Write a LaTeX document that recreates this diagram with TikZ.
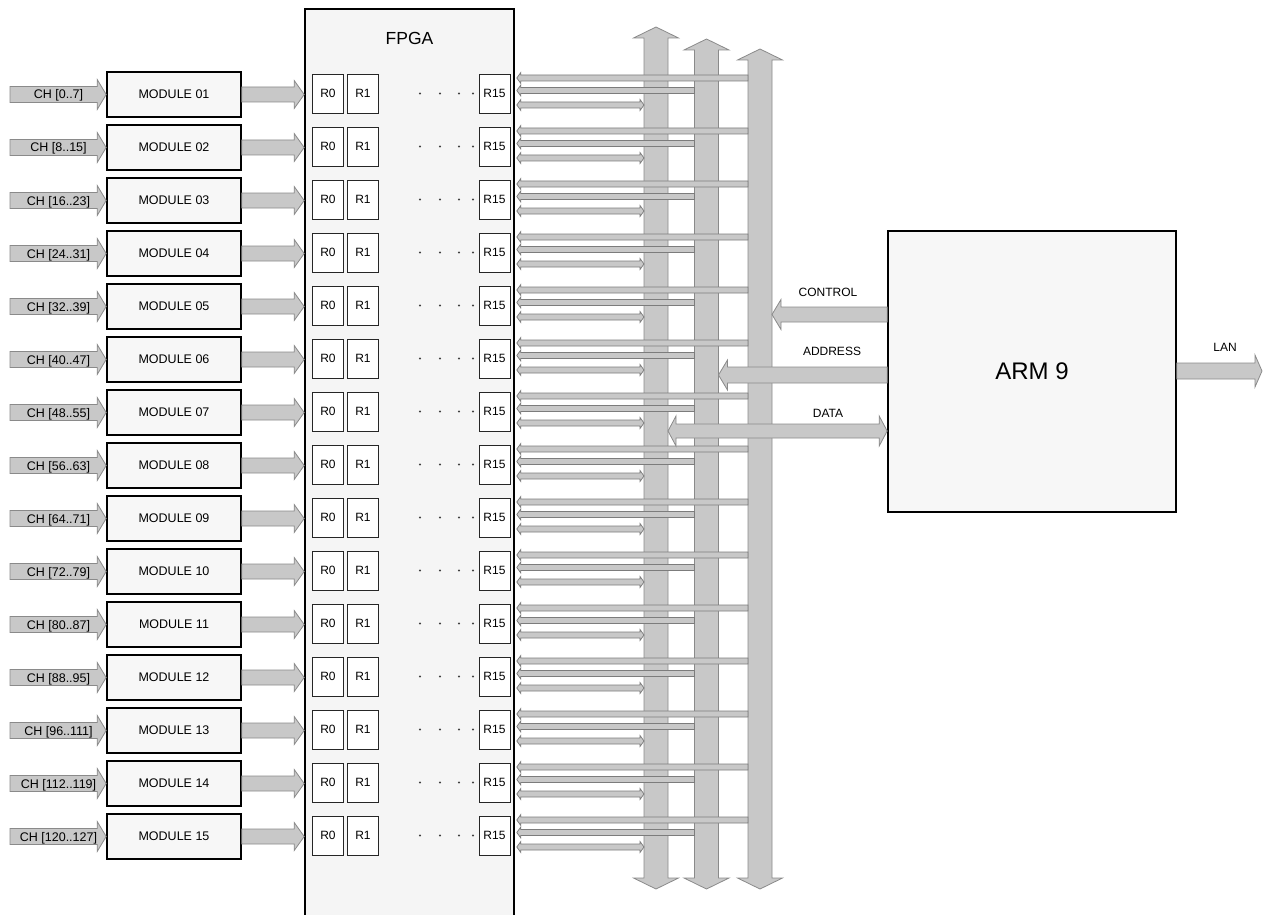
\documentclass[tikz,border=0pt]{standalone}
\usepackage{fontspec}
\setmainfont{Liberation Sans}
\usetikzlibrary{calc}
\definecolor{afill}{HTML}{C8C8C8}
\definecolor{aline}{HTML}{8A8A8A}
\definecolor{boxfill}{HTML}{F7F7F7}
\tikzset{
 modbox/.style={draw=black, line width=1.6pt, fill=boxfill, minimum width=134pt, minimum height=45pt, inner sep=0pt, font=\fontsize{12.5}{14}\selectfont},
 regbox/.style={draw=black!85, line width=0.9pt, fill=white, minimum width=31pt, minimum height=39pt, inner sep=0pt, font=\fontsize{12}{14}\selectfont},
 bigbox/.style={draw=black, line width=1.6pt, fill=boxfill, inner sep=0pt},
 barrow/.style={fill=afill, draw=aline, line width=0.8pt, line join=miter},
 tarrow/.style={fill=afill, draw=aline!90!black, line width=0.75pt},
 lbl/.style={font=\fontsize{12}{14}\selectfont, inner sep=0pt},
 chlbl/.style={font=\fontsize{12.5}{14}\selectfont, inner sep=0pt, anchor=base},
}
% #1 style, #2 tail point, #3 tip point, #4 half shaft, #5 half head, #6 head length (signed)
\newcommand\blockarrow[6]{%
 \draw[#1] ($(#2)+(0,#4)$) -- ($(#3)+({-(#6)},#4)$) -- ($(#3)+({-(#6)},#5)$) -- (#3)
  -- ($(#3)+({-(#6)},{-(#5)})$) -- ($(#3)+({-(#6)},{-(#4)})$) -- ($(#2)+(0,{-(#4)})$) -- cycle;}
% horizontal double-headed: #2 left tip, #3 right tip
\newcommand\dblarrow[6]{%
 \draw[#1] (#2) -- ($(#2)+(#6,{-(#5)})$) -- ($(#2)+(#6,{-(#4)})$) -- ($(#3)+({-(#6)},{-(#4)})$)
  -- ($(#3)+({-(#6)},{-(#5)})$) -- (#3) -- ($(#3)+({-(#6)},#5)$) -- ($(#3)+({-(#6)},#4)$)
  -- ($(#2)+(#6,#4)$) -- ($(#2)+(#6,#5)$) -- cycle;}
% vertical double-headed: #2 top tip, #3 bottom tip
\newcommand\vdblarrow[6]{%
 \draw[#1] (#2) -- ($(#2)+(#5,#6)$) -- ($(#2)+(#4,#6)$) -- ($(#3)+(#4,{-(#6)})$)
  -- ($(#3)+(#5,{-(#6)})$) -- (#3) -- ($(#3)+({-(#5)},{-(#6)})$) -- ($(#3)+({-(#4)},{-(#6)})$)
  -- ($(#2)+({-(#4)},#6)$) -- ($(#2)+({-(#5)},#6)$) -- cycle;}
\begin{document}
\begin{tikzpicture}[x=1pt,y=-1pt]
\useasboundingbox (0,0) rectangle (1264,915);
\begin{scope}
\clip (0,0) rectangle (1264,915);
% FPGA
\node[bigbox, minimum width=209pt, minimum height=921pt, fill=black!4] (fpga) at (409.5,469.5) {};
\node[font=\fontsize{17.5}{20}\selectfont, inner sep=0pt] (fpgalbl) at (409.5,38) {FPGA};
% buses
\coordinate (b1t) at (656,27);   \coordinate (b1b) at (656,889);
\coordinate (b2t) at (706.5,39); \coordinate (b2b) at (706.5,889);
\coordinate (b3t) at (760,49);   \coordinate (b3b) at (760,889);
\vdblarrow{barrow}{b1t}{b1b}{12}{22.5}{11}
\vdblarrow{barrow}{b2t}{b2b}{12}{22.5}{11}
\vdblarrow{barrow}{b3t}{b3b}{12}{22.5}{11}
% rows
\foreach \i/\ch in {1/0..7,2/8..15,3/16..23,4/24..31,5/32..39,6/40..47,7/48..55,8/56..63,9/64..71,10/72..79,11/80..87,12/88..95,13/96..111,14/112..119,15/120..127}{
  \pgfmathsetmacro\yy{94.5+53*(\i-1)}
  \pgfmathsetmacro\yr{\yy-1}
  \pgfmathsetmacro\yb{\yy+4.5}
  \node[modbox] (m\i) at (174,\yy) {MODULE \ifnum\i<10 0\fi\i};
  \coordinate (in\i) at (10,\yy);
  \blockarrow{barrow}{in\i}{m\i.west}{8}{15}{9}
  \node[chlbl] (ch\i) at (58.5,\yb) {CH [\ch]};
  \coordinate (fin\i) at (fpga.west |- m\i.center);
  \blockarrow{barrow}{m\i.east}{fin\i}{7.5}{14}{10}
  \node[regbox] (ra\i) at (328,\yr) {R0};
  \node[regbox] (rb\i) at (363,\yr) {R1};
  \node[regbox] (rc\i) at (494.5,\yr) {R15};
  \foreach \dx in {420,440,459,473}{\fill[black!75] (\dx,\yr) circle (1.1pt);}
  % bus lines
  \coordinate (s1\i) at ($(fpga.east |- m\i.center)+(2,-16.5)$);
  \coordinate (s2\i) at ($(fpga.east |- m\i.center)+(2,-4)$);
  \coordinate (s3\i) at ($(fpga.east |- m\i.center)+(2,10.5)$);
  \coordinate (e1\i) at ($(s1\i -| b3t)+(-12,0)$);
  \coordinate (e2\i) at ($(s2\i -| b2t)+(-12,0)$);
  \coordinate (e3\i) at ($(s3\i -| b1t)+(-12,0)$);
  \blockarrow{tarrow}{e1\i}{s1\i}{3}{5.5}{-4}
  \blockarrow{tarrow}{e2\i}{s2\i}{3}{5.5}{-4}
  \dblarrow{tarrow}{s3\i}{e3\i}{3}{5.5}{4}
}
% ARM
\node[bigbox, minimum width=288pt, minimum height=281pt, font=\fontsize{24}{28}\selectfont] (arm) at (1032,371.5) {ARM 9};
\coordinate (ctlA) at (arm.west |- 0,314.5);
\coordinate (ctlB) at ($(b3t |- 0,314.5)+(12,0)$);
\blockarrow{barrow}{ctlA}{ctlB}{7.5}{15}{-9}
\coordinate (adrA) at (arm.west |- 0,375);
\coordinate (adrB) at ($(b2t |- 0,375)+(12,0)$);
\blockarrow{barrow}{adrA}{adrB}{8}{15}{-9}
\coordinate (datA) at ($(b1t |- 0,431)+(12,0)$);
\coordinate (datB) at (arm.west |- 0,431);
\dblarrow{barrow}{datA}{datB}{7}{15}{8}
\coordinate (lanA) at (arm.east |- 0,371);
\coordinate (lanB) at (1262,371);
\blockarrow{barrow}{lanA}{lanB}{8}{16}{7}
\node[lbl] (ctl) at (828,292) {CONTROL};
\node[lbl] (adr) at (832,351) {ADDRESS};
\node[lbl] (dat) at (828,413) {DATA};
\node[lbl] (lan) at (1225,347) {LAN};
\end{scope}
\end{tikzpicture}
\end{document}
